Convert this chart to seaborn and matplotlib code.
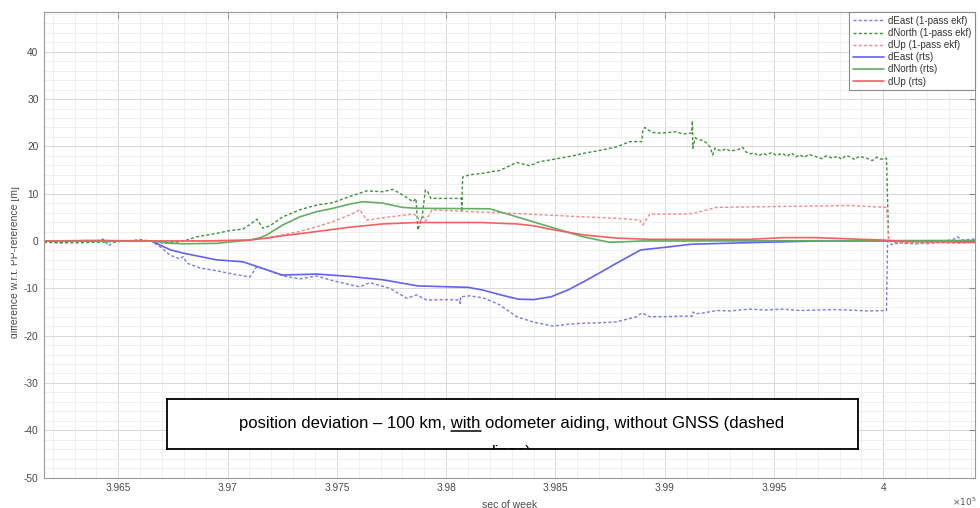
import numpy as np
import pandas as pd
import matplotlib
matplotlib.use("Agg")
import matplotlib.pyplot as plt
import seaborn as sns
from matplotlib.patches import Rectangle
from matplotlib.lines import Line2D
from matplotlib.ticker import MultipleLocator

# ---------------- data (seconds of week, metres) ----------------
east_ekf_t = [396160, 396200, 396250, 396300, 396350, 396400, 396430, 396455, 396480, 396520,
              396560, 396600, 396650, 396700, 396737, 396782, 396796, 396814, 396873, 396951,
              397024, 397102, 397134, 397180, 397253, 397331, 397408, 397482, 397605, 397651,
              397742, 397820, 397866, 397911, 398000, 398062, 398064, 398066, 398108, 398168,
              398232, 398245, 398323, 398396, 398488, 398560, 398625, 398700, 398781, 398872,
              398895, 398932, 399000, 399083, 399125, 399130, 399138, 399180, 399238, 399300,
              399389, 399460, 399540, 399620, 399695, 399770, 399846, 399930, 400015, 400020,
              400040, 400080, 400140, 400200, 400260, 400320, 400340, 400360, 400420]
east_ekf_v = [0.1, -0.3, -0.4, 0.0, 0.1, 0.0, 0.4, -1.0, -0.3, 0.0,
              0.1, 0.3, 0.0, -1.5, -3.0, -3.8, -3.3, -4.7, -5.7, -6.3,
              -7.0, -7.6, -5.4, -6.1, -7.4, -8.0, -7.4, -8.4, -9.7, -8.8,
              -10.0, -12.1, -11.4, -12.5, -12.4, -12.5, -13.2, -11.8, -11.6, -12.0,
              -13.2, -13.5, -16.0, -17.1, -18.0, -17.6, -17.4, -17.3, -17.1, -16.0,
              -15.2, -16.0, -16.0, -15.9, -15.9, -15.0, -15.4, -15.2, -14.7, -14.8,
              -14.4, -14.6, -14.4, -14.7, -14.6, -14.5, -14.6, -14.8, -14.7, 0.0,
              -0.8, -0.3, -0.4, -0.6, -0.2, 0.3, 0.9, 0.2, 0.4]

north_ekf_t = [396160, 396300, 396450, 396600, 396660, 396710, 396760, 396800, 396860, 396950,
               397010, 397070, 397100, 397134, 397162, 397193, 397253, 397331, 397408, 397482,
               397559, 397637, 397710, 397756, 397802, 397848, 397862, 397871, 397890, 397905,
               397916, 397930, 398070, 398072, 398074, 398076, 398108, 398168, 398214, 398245,
               398323, 398383, 398429, 398474, 398520, 398580, 398625, 398700, 398781, 398840,
               398895, 398900, 398909, 398940, 398964, 399009, 399055, 399083, 399124, 399127,
               399129, 399140, 399152, 399175, 399190, 399207, 399220, 399230, 399238, 399260,
               399280, 399300, 399312, 399335, 399357, 399370, 399389, 399410, 399430, 399450,
               399467, 399490, 399510, 399540, 399560, 399580, 399600, 399618, 399640, 399660,
               399695, 399720, 399740, 399768, 399790, 399810, 399830, 399846, 399870, 399890,
               399924, 399950, 399970, 399990, 400015, 400025, 400060, 400100, 400150, 400200,
               400250, 400300, 400350, 400420]
north_ekf_v = [-0.3, -0.4, -0.2, 0.1, 0.0, -0.5, -0.3, 0.0, 0.9, 1.6,
               2.2, 2.5, 3.4, 4.6, 2.7, 3.2, 5.1, 6.6, 7.6, 8.1,
               9.4, 10.6, 10.4, 10.9, 9.7, 8.3, 9.0, 2.3, 5.0, 10.8,
               10.4, 9.0, 9.0, 6.2, 11.2, 13.5, 14.0, 14.3, 14.7, 14.9,
               16.6, 15.9, 16.8, 17.1, 17.5, 18.0, 18.5, 19.1, 19.9, 21.0,
               21.0, 23.5, 24.0, 23.0, 22.8, 22.9, 23.1, 22.6, 22.8, 25.4,
               19.6, 21.8, 21.5, 21.2, 20.8, 19.9, 18.2, 19.6, 19.4, 19.0,
               19.5, 19.0, 19.1, 19.3, 19.8, 18.9, 18.4, 18.6, 18.0, 18.5,
               18.2, 18.7, 18.1, 18.5, 17.9, 18.6, 17.8, 18.2, 17.7, 18.3,
               17.8, 17.4, 18.0, 17.5, 17.9, 17.3, 18.1, 17.8, 17.2, 17.9,
               17.5, 17.0, 17.7, 17.3, 17.5, 0.0, -0.3, -0.5, -0.6, -0.3,
               -0.2, 0.1, -0.2, -0.3]

up_ekf_t = [396160, 396700, 397000, 397102, 397193, 397253, 397331, 397408, 397482, 397559,
            397605, 397637, 397710, 397850, 397866, 397880, 397895, 397905, 397916, 397935,
            398017, 398323, 398625, 398781, 398886, 398900, 398932, 399083, 399129, 399238,
            399540, 399846, 399924, 400015, 400025, 400060, 400150, 400250, 400350, 400420]
up_ekf_v = [0.0, 0.0, 0.1, 0.2, 0.8, 1.3, 2.0, 3.0, 4.1, 5.5,
            6.6, 4.4, 4.9, 5.7, 5.3, 4.1, 5.2, 4.2, 5.0, 6.6,
            6.4, 5.8, 5.1, 4.8, 4.4, 3.4, 5.7, 5.7, 5.8, 7.1,
            7.3, 7.5, 7.3, 7.1, 0.0, -0.3, -0.5, -0.4, -0.5, -0.3]

east_rts_t = [396160, 396400, 396650, 396740, 396800, 396950, 397070, 397250, 397410, 397560,
              397710, 397870, 398020, 398100, 398170, 398250, 398330, 398400, 398480, 398560,
              398630, 398700, 398780, 398890, 399010, 399120, 399390, 399700, 400420]
east_rts_v = [0.0, 0.1, 0.0, -1.9, -2.6, -4.0, -4.4, -7.2, -7.0, -7.5,
              -8.2, -9.5, -9.7, -9.8, -10.4, -11.4, -12.3, -12.4, -11.8, -10.3,
              -8.6, -6.8, -4.7, -1.9, -1.3, -0.7, -0.35, 0.0, 0.0]

north_rts_t = [396160, 396650, 396740, 396800, 396950, 397102, 397150, 397180, 397253, 397331,
               397408, 397482, 397559, 397620, 397710, 397800, 397866, 398200, 398323, 398474,
               398625, 398750, 398900, 400420]
north_rts_v = [0.0, 0.0, -0.5, -0.6, -0.5, 0.2, 0.7, 1.3, 3.4, 5.1,
               6.2, 6.9, 7.8, 8.3, 8.0, 7.1, 6.9, 6.8, 5.1, 3.0,
               0.9, -0.3, 0.0, 0.1]

up_rts_t = [396160, 396900, 397100, 397180, 397253, 397408, 397559, 397710, 397866, 398160,
            398323, 398400, 398474, 398625, 398781, 398932, 399389, 399540, 399695, 399990,
            400100, 400420]
up_rts_v = [0.0, 0.0, 0.2, 0.6, 1.1, 2.0, 2.9, 3.6, 3.9, 3.9,
            3.6, 3.2, 2.5, 1.3, 0.6, 0.35, 0.35, 0.7, 0.7, 0.2,
            -0.1, -0.3]

series_labels = ["dEast (1-pass ekf)", "dNorth (1-pass ekf)", "dUp (1-pass ekf)",
                 "dEast (rts)", "dNorth (rts)", "dUp (rts)"]
x_tick_values = [396500, 397000, 397500, 398000, 398500, 399000, 399500, 400000]
x_tick_labels = ["3.965", "3.97", "3.975", "3.98", "3.985", "3.99", "3.995", "4"]
y_tick_values = [-50, -40, -30, -20, -10, 0, 10, 20, 30, 40]

# ---------------- style ----------------
sns.set_style("white")
plt.rcParams["font.family"] = ["Liberation Sans", "DejaVu Sans"]
plt.rcParams["axes.unicode_minus"] = False

W, H = 980, 508
fig = plt.figure(figsize=(9.8, 5.08), dpi=100)
ax = fig.add_axes([44 / W, 30.5 / H, 931 / W, 465.5 / H])

dot = (0, (2.2, 1.6))
styles = [
    ("#7a7ae8", dot, 1.0),
    ("#3f8f3f", dot, 1.0),
    ("#f08a8a", dot, 1.0),
    ("#6262ec", "-", 1.2),
    ("#64ae64", "-", 1.2),
    ("#f06262", "-", 1.2),
]
data_sets = [(east_ekf_t, east_ekf_v), (north_ekf_t, north_ekf_v), (up_ekf_t, up_ekf_v),
             (east_rts_t, east_rts_v), (north_rts_t, north_rts_v), (up_rts_t, up_rts_v)]

handles = []
for lab, (t, v), (c, ls, lw) in zip(series_labels, data_sets, styles):
    df = pd.DataFrame({"t": t, "v": v})
    sns.lineplot(data=df, x="t", y="v", ax=ax, color=c, linestyle=ls, linewidth=lw,
                 estimator=None, sort=False, legend=False)
    handles.append(Line2D([0], [0], color=c, linestyle=ls, linewidth=lw, label=lab))

ax.set_xlim(396160, 400420)
ax.set_ylim(-50, 48.4)
ax.set_xticks(x_tick_values)
ax.set_xticklabels(x_tick_labels)
ax.set_yticks(y_tick_values)
ax.xaxis.set_minor_locator(MultipleLocator(100))
ax.yaxis.set_minor_locator(MultipleLocator(2))
ax.set_axisbelow(True)
ax.grid(which="major", color="#d8d8d8", linewidth=0.7)
ax.grid(which="minor", color="#ededed", linewidth=0.6)
ax.tick_params(which="major", direction="in", length=4, top=True, right=True,
               color="#8a8a8a", labelcolor="#4a4a4a", labelsize=7.3, pad=4)
ax.tick_params(which="minor", length=0)
for s in ax.spines.values():
    s.set_color("#9a9a9a")
    s.set_linewidth(0.8)
ax.set_xlabel("sec of week", fontsize=7.5, color="#4a4a4a", labelpad=5)
ax.set_ylabel("")

leg = ax.legend(handles=handles, loc="upper right", bbox_to_anchor=(1, 1),
                borderaxespad=0, fontsize=7, handlelength=3.2, handletextpad=0.4,
                labelspacing=0.22, borderpad=0.4, fancybox=False, framealpha=1)
leg.get_frame().set_edgecolor("#8a8a8a")
leg.get_frame().set_linewidth(0.8)
for txt in leg.get_texts():
    txt.set_color("#333333")

fig.text(964 / W, 1 - 502 / H, r"$\times10^5$", ha="center", va="center",
         fontsize=6.5, color="#555555")

fig.text(15 / W, 1 - 262 / H, "difference w.r.t. PP-reference [m]", rotation=90,
         ha="center", va="center", fontsize=7.5, color="#4a4a4a")
fig.add_artist(Rectangle((0, 0), 11 / W, 1, transform=fig.transFigure,
                         facecolor="white", edgecolor="none", zorder=20))

# annotation box as an overlay axes (clips the second, cut-off text line)
bx0, bx1, by0, by1 = 167, 858, 399, 449
box_ax = fig.add_axes([bx0 / W, 1 - by1 / H, (bx1 - bx0) / W, (by1 - by0) / H])
box_ax.set_xlim(bx0, bx1)
box_ax.set_ylim(by1, by0)
box_ax.set_xticks([])
box_ax.set_yticks([])
box_ax.set_facecolor("white")
for s in box_ax.spines.values():
    s.set_color("black")
    s.set_linewidth(1.3)

cx = 512
line1 = "position deviation \u2013 100 km, with odometer aiding, without GNSS (dashed"
prefix = "position deviation \u2013 100 km, with"
box_ax.text(cx, 428, line1, ha="center", va="baseline", fontsize=12, color="black",
            clip_on=True)
box_ax.text(cx, 457.5, "lines)", ha="center", va="baseline", fontsize=12, color="black",
            clip_on=True)

fig.canvas.draw()
r = fig.canvas.get_renderer()
def width(s):
    tt = fig.text(0, 0, s, fontsize=12)
    w = tt.get_window_extent(r).width
    tt.remove()
    return w
wf = width(line1)
wp = width(prefix)
ww = width("with")
x_start = cx - wf / 2
ux1 = x_start + wp
ux0 = ux1 - ww
box_ax.plot([ux0, ux1], [430.8, 430.8], color="black", linewidth=1.1)

fig.savefig("out.png", dpi=100)
